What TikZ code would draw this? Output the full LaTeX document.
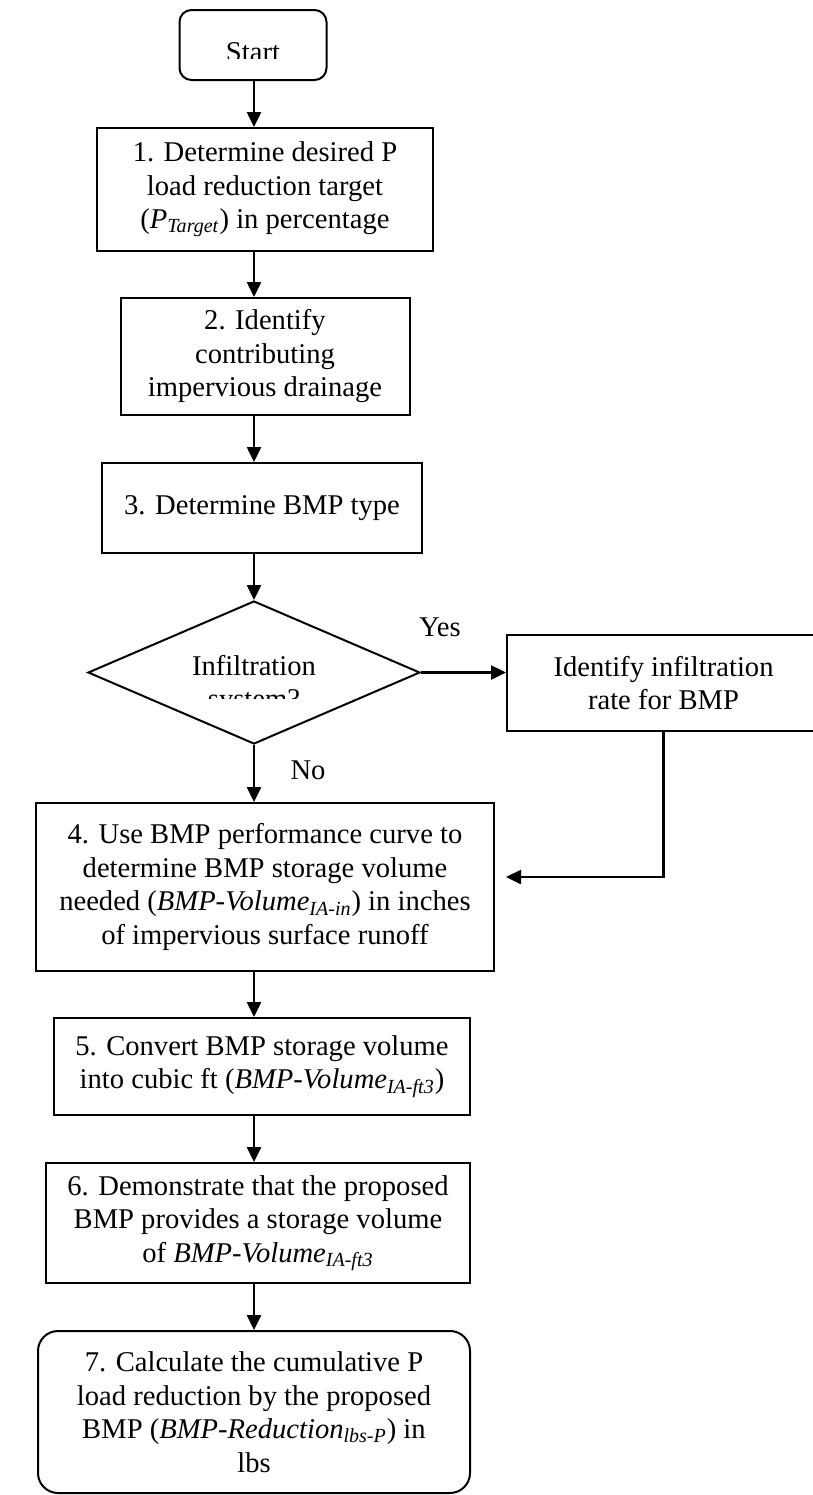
\documentclass[tikz,border=0pt]{standalone}
\usepackage{fontspec}
\setmainfont{Liberation Serif}
\usetikzlibrary{shapes.geometric,arrows.meta,calc}

\begin{document}
\begin{tikzpicture}[x = 0.5pt, y = -0.5pt,
    font = \fontsize{14.3}{16.75}\selectfont,
    box/.style = {draw, line width = 1pt, rectangle, align = center, inner sep = 0pt},
    term/.style = {box, rounded corners = 6pt},
    arr/.style = {line width = 1.25pt, -{Triangle[length = 7.5pt, width = 7pt]}}]
    \useasboundingbox (0, 0) rectangle (813, 1495);
    % START
    \node[term, minimum width = 73.5pt, minimum height = 35pt] (start) at (253, 45) {};
    \begin{scope}
        \clip (182, 12) rectangle (325, 58);
        \node[anchor = base, inner sep = 0pt] (starttxt) at (253, 61) {Start};
    \end{scope}
    % STEPS 1 TO 3
    \node[box, minimum width = 168pt, minimum height = 61.5pt] (b1) at (265, 189.5) {1. Determine desired P\\load reduction target\\(\textit{P}\textsubscript{\textit{Target}}) in percentage};
    \node[box, minimum width = 144.5pt, minimum height = 58.5pt] (b2) at (265, 356.5) {2. Identify\\contributing\\impervious drainage};
    \node[box, minimum width = 160pt, minimum height = 45pt] (b3) at (262, 508) {3. Determine BMP type};
    % DECISION
    \node[diamond, draw, line width = 1pt, inner sep = 0pt, minimum width = 166pt, minimum height = 71.5pt] (dia) at (254, 672.5) {};
    \begin{scope}
        \clip (100, 603) rectangle (410, 698);
        \node[anchor = base, inner sep = 0pt] (diatxt) at (254, 675) {Infiltration};
        \node[anchor = base, inner sep = 0pt] (diatxtb) at (254, 708.5) {system?};
    \end{scope}
    \node[box, minimum width = 156.5pt, minimum height = 48pt] (rbox) at (663.5, 683) {Identify infiltration\\rate for BMP};
    \node (yes) at (440, 627) {Yes};
    \node (no) at (308, 770) {No};
    % STEPS 4 TO 7
    \node[box, minimum width = 229pt, minimum height = 84pt] (b4) at (265, 887) {4. Use BMP performance curve to\\determine BMP storage volume\\needed (\textit{BMP-Volume}\textsubscript{\textit{IA-in}}) in inches\\of impervious surface runoff};
    \node[box, minimum width = 208pt, minimum height = 48.5pt] (b5) at (262, 1066.5) {5. Convert BMP storage volume\\into cubic ft (\textit{BMP-Volume}\textsubscript{\textit{IA-ft3}})};
    \node[box, minimum width = 212pt, minimum height = 60pt] (b6) at (258, 1223) {6. Demonstrate that the proposed\\BMP provides a storage volume\\of \textit{BMP-Volume}\textsubscript{\textit{IA-ft3}}};
    \node[box, rounded corners = 10pt, minimum width = 216pt, minimum height = 81pt] (b7) at (254, 1412) {7. Calculate the cumulative P\\load reduction by the proposed\\BMP (\textit{BMP-Reduction}\textsubscript{\textit{lbs-P}}) in\\lbs};
    % ARROWS
    \draw[arr] (start.south -| dia) -- (b1.north -| dia);
    \draw[arr] (b1.south -| dia) -- (b2.north -| dia);
    \draw[arr] (b2.south -| dia) -- (b3.north -| dia);
    \draw[arr] (b3.south -| dia) -- (dia.north);
    \draw[arr] (dia.east) -- (rbox.west |- dia.east);
    \draw[arr] (dia.south) -- (b4.north -| dia);
    \coordinate (ret) at ([xshift = 5.5pt, yshift = 5pt]b4.east);
    \draw[arr] (rbox.south) -- (rbox.south |- ret) -- (ret);
    \draw[arr] (b4.south -| dia) -- (b5.north -| dia);
    \draw[arr] (b5.south -| dia) -- (b6.north -| dia);
    \draw[arr] (b6.south -| dia) -- (b7.north -| dia);
\end{tikzpicture}
\end{document}
